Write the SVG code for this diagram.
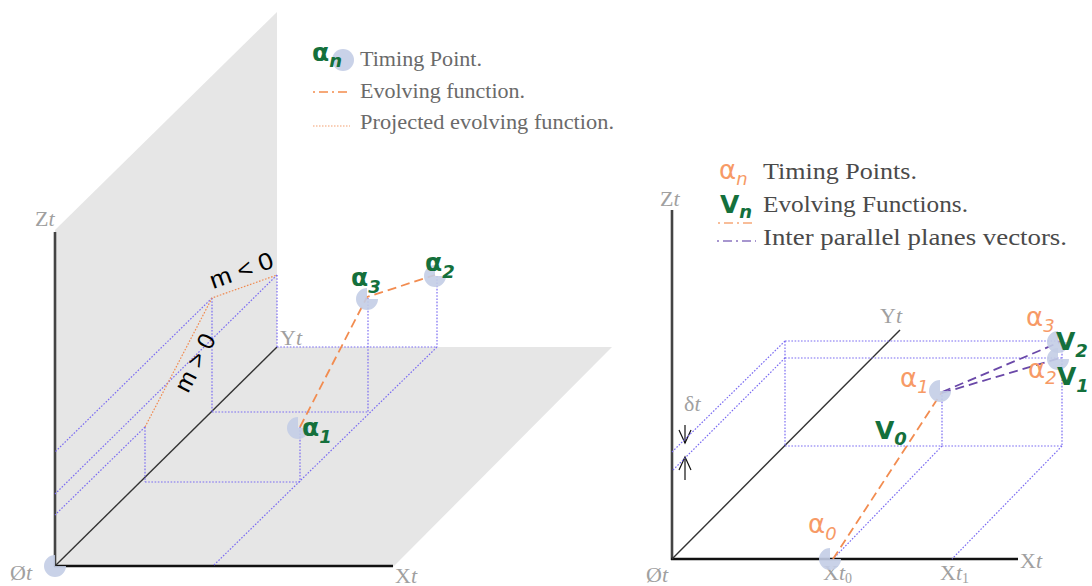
<svg xmlns="http://www.w3.org/2000/svg" width="1092" height="586" viewBox="0 0 1092 586">
<style>
.plane{fill:#e6e6e6}
.bdot{fill:none;stroke:#7b6cf2;stroke-width:1.2;stroke-dasharray:1.6 1.6}
.odot{fill:none;stroke:#f08a50;stroke-width:1.2;stroke-dasharray:1.6 1.6}
.odash{fill:none;stroke:#f28c50;stroke-width:1.8;stroke-dasharray:9 5}
.pdash{fill:none;stroke:#6a48a8;stroke-width:1.8;stroke-dasharray:9 5}
.axis{stroke:#111;stroke-width:2.6}
.axisv{stroke:#444;stroke-width:2.6}
.yaxis{stroke:#333;stroke-width:1.4}
.ax{font-family:"Liberation Serif",serif;font-size:22px;fill:#a0a0a0}
.it{font-style:italic}
.leg{font-family:"Liberation Serif",serif;font-size:21px;fill:#6a6a6a}
.leg2{font-family:"Liberation Serif",serif;font-size:23px;fill:#4a4a4a}
.g{font-family:"DejaVu Sans",sans-serif;font-weight:bold;font-size:25px;fill:#14703c}
.o{font-family:"DejaVu Sans",sans-serif;font-size:26px;fill:#f79a66}
.sub{font-size:18px;font-style:italic}
.m{font-family:"Liberation Sans",sans-serif;font-size:24px;fill:#000}
.tp{fill:#c3cde6;opacity:0.9}
</style>
<defs>
<path id="pac" d="M0,0 L11,0 A11,11 0 1 1 0,-11 Z"/>
</defs>

<!-- Left diagram -->
<g id="left-planes">
<polygon class="plane" points="55,230 277,12 277,347 55,567"/>
<polygon class="plane" points="55,567 277,347 612,347 393,567"/>
</g>

<g id="left-axes">
<line class="axisv" x1="55" y1="232" x2="55" y2="567"/>
<line class="axis" x1="54" y1="566" x2="393" y2="566"/>
<line class="yaxis" x1="55" y1="566" x2="277" y2="347"/>
<use href="#pac" class="tp" x="55" y="566"/>
<text class="ax" x="35" y="226">Z<tspan class="it">t</tspan></text>
<text class="ax" x="280" y="345">Y<tspan class="it">t</tspan></text>
<text class="ax" x="395" y="583">X<tspan class="it">t</tspan></text>
<text class="ax" x="10" y="580">Ø<tspan class="it">t</tspan></text>
</g>

<g id="left-connectors">
<line class="bdot" x1="277" y1="275" x2="277" y2="347"/>
<line class="bdot" x1="212" y1="298" x2="212" y2="412"/>
<line class="bdot" x1="145" y1="427" x2="145" y2="482"/>
<line class="bdot" x1="277" y1="347" x2="437" y2="347"/>
<line class="bdot" x1="437" y1="276" x2="437" y2="347"/>
<line class="bdot" x1="368" y1="298" x2="368" y2="412"/>
<line class="bdot" x1="212" y1="412" x2="368" y2="412"/>
<line class="bdot" x1="300" y1="427" x2="300" y2="482"/>
<line class="bdot" x1="145" y1="482" x2="300" y2="482"/>
<line class="bdot" x1="437" y1="347" x2="213" y2="566"/>
<line class="bdot" x1="277" y1="275" x2="55" y2="494"/>
<line class="bdot" x1="212" y1="298" x2="55" y2="452"/>
<line class="bdot" x1="145" y1="427" x2="55" y2="515"/>
<polyline class="odot" points="145,427 212,298 277,275"/>
<polyline class="odash" points="300,427 367,297 435,275"/>
</g>

<g id="left-labels">
<text class="m" transform="translate(213,289) rotate(-19.5)" textLength="66" lengthAdjust="spacingAndGlyphs">m &lt; 0</text>
<text class="m" transform="translate(188,394) rotate(-62.5)" textLength="62" lengthAdjust="spacingAndGlyphs">m &gt; 0</text>
</g>

<g id="l-alpha1">
<use href="#pac" class="tp" x="298" y="428"/>
<text class="g" x="302" y="436">α<tspan class="sub" dy="7">1</tspan></text>
</g>
<g id="l-alpha3">
<use href="#pac" class="tp" x="367" y="299"/>
<text class="g" x="351" y="286">α<tspan class="sub" dy="7">3</tspan></text>
</g>
<g id="l-alpha2">
<use href="#pac" class="tp" x="435" y="276"/>
<text class="g" x="425" y="271">α<tspan class="sub" dy="7">2</tspan></text>
</g>

<g id="left-legend">
<circle class="tp" cx="343" cy="60" r="11"/>
<text class="g" x="312" y="61">α<tspan class="sub" dy="6">n</tspan></text>
<text class="leg" x="360" y="66" textLength="122" lengthAdjust="spacingAndGlyphs">Timing Point.</text>
<line x1="313" y1="92" x2="349" y2="92" stroke="#f6a878" stroke-width="1.8" stroke-dasharray="2 4 9 4"/>
<text class="leg" x="360" y="98" textLength="165" lengthAdjust="spacingAndGlyphs">Evolving function.</text>
<line x1="313" y1="126" x2="350" y2="126" stroke="#f4a070" stroke-width="1.2" stroke-dasharray="1.5 1.5"/>
<text class="leg" x="360" y="129" textLength="254" lengthAdjust="spacingAndGlyphs">Projected evolving function.</text>
</g>

<!-- Right diagram -->
<g id="right-axes">
<line class="axisv" x1="672" y1="210" x2="672" y2="560"/>
<line class="axis" x1="671" y1="559" x2="1018" y2="559"/>
<line class="yaxis" x1="672" y1="559" x2="900" y2="330"/>
<text class="ax" x="660" y="206">Z<tspan class="it">t</tspan></text>
<text class="ax" x="880" y="323">Y<tspan class="it">t</tspan></text>
<text class="ax" x="1020" y="568">X<tspan class="it">t</tspan></text>
<text class="ax" x="646" y="582">Ø<tspan class="it">t</tspan></text>
<text class="ax" x="684" y="411">δ<tspan class="it">t</tspan></text>
<text class="ax" x="823" y="580" font-size="21">X<tspan class="it">t</tspan><tspan font-size="14" dy="3">0</tspan></text>
<text class="ax" x="940" y="580" font-size="21">X<tspan class="it">t</tspan><tspan font-size="14" dy="3">1</tspan></text>
</g>

<g id="delta-arrows" stroke="#111" stroke-width="1.2" fill="none">
<line x1="685" y1="425" x2="685" y2="443"/>
<polyline points="679,430 685,443 691,430"/>
<line x1="685" y1="480" x2="685" y2="457"/>
<polyline points="679,470 685,457 691,470"/>
</g>

<g id="right-connectors">
<line class="bdot" x1="785" y1="341" x2="1062" y2="341"/>
<line class="bdot" x1="785" y1="358" x2="1062" y2="358"/>
<line class="bdot" x1="785" y1="341" x2="672" y2="452"/>
<line class="bdot" x1="785" y1="358" x2="672" y2="471"/>
<line class="bdot" x1="785" y1="341" x2="785" y2="446"/>
<line class="bdot" x1="1062" y1="341" x2="1062" y2="446"/>
<line class="bdot" x1="942" y1="392" x2="942" y2="446"/>
<line class="bdot" x1="785" y1="446" x2="1062" y2="446"/>
<line class="bdot" x1="942" y1="446" x2="833" y2="559"/>
<line class="bdot" x1="1062" y1="446" x2="952" y2="559"/>
<line class="odash" x1="833" y1="559" x2="942" y2="392"/>
<line class="pdash" x1="942" y1="392" x2="1060" y2="342"/>
<line class="pdash" x1="942" y1="393" x2="1060" y2="358"/>
</g>

<g id="r-alpha0">
<use href="#pac" class="tp" x="830" y="559"/>
<text class="o" x="808" y="533">α<tspan class="sub" dy="7">0</tspan></text>
</g>
<g id="r-alpha1">
<use href="#pac" class="tp" x="940" y="391"/>
<text class="o" x="900" y="387">α<tspan class="sub" dy="6">1</tspan></text>
</g>
<g id="r-v0">
<text class="g" x="875" y="439">V<tspan class="sub" dy="6">0</tspan></text>
</g>
<g id="r-alpha3">
<use href="#pac" class="tp" x="1058" y="342"/>
<text class="o" x="1026" y="326">α<tspan class="sub" dy="6">3</tspan></text>
<text class="g" x="1056" y="350">V<tspan class="sub" dy="7">2</tspan></text>
</g>
<g id="r-alpha2">
<use href="#pac" class="tp" x="1058" y="359"/>
<text class="o" x="1028" y="378">α<tspan class="sub" dy="6">2</tspan></text>
<text class="g" x="1057" y="385">V<tspan class="sub" dy="7">1</tspan></text>
</g>

<g id="right-legend">
<text class="o" x="719" y="179">α<tspan class="sub" dy="6">n</tspan></text>
<text class="leg2" x="763" y="179" textLength="154" lengthAdjust="spacingAndGlyphs">Timing Points.</text>
<text class="g" x="720" y="213">V<tspan class="sub" dy="5">n</tspan></text>
<line x1="718" y1="223" x2="756" y2="223" stroke="#f6a878" stroke-width="1.6" stroke-dasharray="2 4 9 4"/>
<text class="leg2" x="763" y="212" textLength="205" lengthAdjust="spacingAndGlyphs">Evolving Functions.</text>
<line x1="717" y1="241" x2="756" y2="241" stroke="#8a74c0" stroke-width="1.6" stroke-dasharray="2 4 9 4"/>
<text class="leg2" x="763" y="245" textLength="304" lengthAdjust="spacingAndGlyphs">Inter parallel planes vectors.</text>
</g>
</svg>
